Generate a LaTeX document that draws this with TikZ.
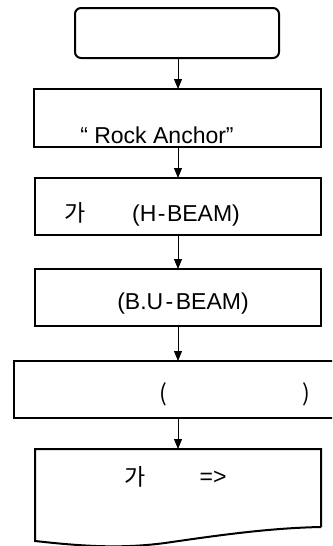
\documentclass[tikz,border=0pt]{standalone}
\usepackage{fontspec}
\setmainfont{Liberation Sans}
\newfontfamily\krfont{Noto Sans CJK KR}
\usetikzlibrary{arrows.meta}
\begin{document}
\begin{tikzpicture}[x=1pt,y=-1pt,
  boxline/.style={line width=2pt,draw=black},
  flow/.style={line width=1pt,-{Triangle[length=10pt,width=8pt]}},
  lbl/.style={inner sep=0pt,anchor=base,font=\fontsize{23}{25}\selectfont},
  krlbl/.style={inner sep=0pt,anchor=base,font=\krfont\fontsize{23}{25}\selectfont}]
\useasboundingbox (0,0) rectangle (332,546);
\begin{scope}
\clip (0,0) rectangle (332,546);
% process boxes
\draw[boxline,rounded corners=6pt] (75,8) rectangle (279,58);
\draw[boxline] (34,89) rectangle (321,147);
\draw[boxline] (35,178) rectangle (321,235);
\draw[boxline] (35,269) rectangle (321,326);
\draw[boxline] (14,361) rectangle (340,418);
% document shape with wavy bottom
\draw[boxline] (321,527) -- (321,449) -- (35,449) -- (35,541)
  .. controls (80,546) and (120,549) .. (165,543)
  .. controls (220,535) and (270,528) .. (321,527);
\end{scope}
% connector anchor points
\node[coordinate] (n1) at (178,58) {};
\node[coordinate] (n2t) at (178,89) {};
\node[coordinate] (n2b) at (178,147) {};
\node[coordinate] (n3t) at (178,178) {};
\node[coordinate] (n3b) at (178,235) {};
\node[coordinate] (n4t) at (178,269) {};
\node[coordinate] (n4b) at (178,326) {};
\node[coordinate] (n5t) at (178,361) {};
\node[coordinate] (n5b) at (178,418) {};
\node[coordinate] (n6t) at (178,449) {};
\draw[flow] (n1) -- (n2t);
\draw[flow] (n2b) -- (n3t);
\draw[flow] (n3b) -- (n4t);
\draw[flow] (n4b) -- (n5t);
\draw[flow] (n5b) -- (n6t);
% labels
\node[lbl] (t2) at (157,143) {“ Rock Anchor”};
\node[krlbl] (t3a) at (75,221) {가};
\node[lbl] (t3b) at (186,221) {(H\kern1.5pt-\kern1.5pt BEAM)};
\node[lbl] (t4) at (183,309) {(B.U\kern2.5pt-\kern2.5pt BEAM)};
\node[krlbl] (t5a) at (163,401) {(};
\node[krlbl] (t5b) at (306,401) {)};
\node[krlbl] (t6a) at (135,485) {가};
\node[lbl] (t6b) at (213,484) {=>};
\end{tikzpicture}
\end{document}
